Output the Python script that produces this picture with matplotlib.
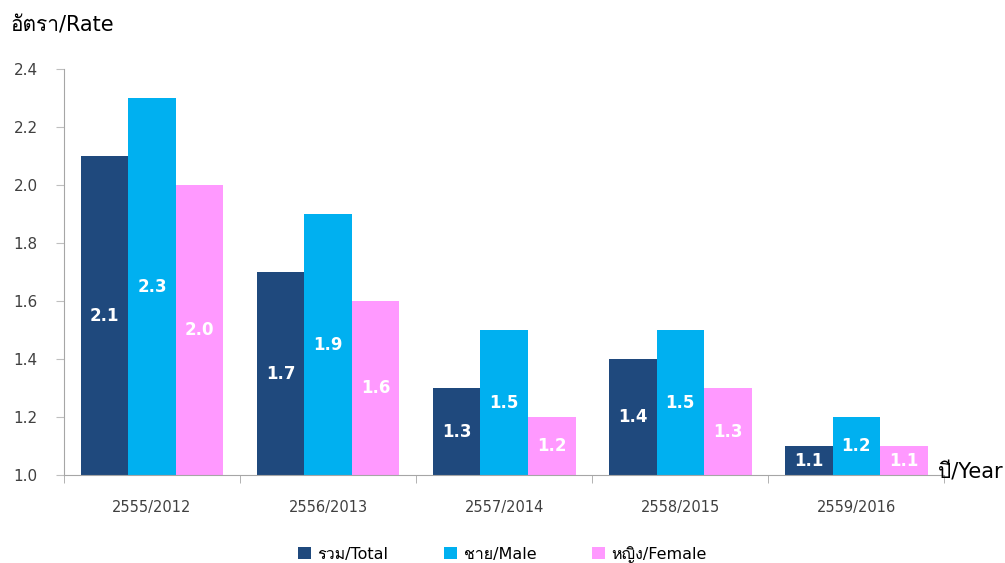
import numpy as np
from matplotlib import pyplot as plt
from matplotlib import font_manager
from matplotlib.ft2font import FT2Font

years = ["2555/2012", "2556/2013", "2557/2014", "2558/2015", "2559/2016"]
total = [2.1, 1.7, 1.3, 1.4, 1.1]
male = [2.3, 1.9, 1.5, 1.5, 1.2]
female = [2.0, 1.6, 1.2, 1.3, 1.1]
series_names = ["รวม/Total", "ชาย/Male", "หญิง/Female"]
colors = ["#1F497D", "#00B0F0", "#FF99FF"]

# look for an installed font that has Thai glyphs
thai_font = None
for fe in font_manager.fontManager.ttflist:
    try:
        if 0x0E2D in FT2Font(fe.fname).get_charmap():
            thai_font = fe.name
            break
    except Exception:
        pass
fams = ["DejaVu Sans"]
if thai_font:
    fams.append(thai_font)
plt.rcParams['font.family'] = fams

fig = plt.figure(figsize=(10.05, 5.63), dpi=100)
ax = fig.add_axes([0.0637, 0.156, 0.876, 0.721])

x = np.arange(len(years))
w = 0.27
for i, vals in enumerate([total, male, female]):
    bars = ax.bar(x + (i - 1) * w, np.array(vals) - 1.0, w, bottom=1.0,
                  color=colors[i], label=series_names[i])
    for b, v in zip(bars, vals):
        ax.text(b.get_x() + b.get_width() / 2, 1.0 + (v - 1.0) / 2, "%.1f" % v,
                ha='center', va='center', color='white', fontsize=12,
                fontweight='bold')

ax.set_xlim(-0.5, len(years) - 0.5)
ax.set_ylim(1.0, 2.4)
ax.set_yticks(np.arange(1.0, 2.41, 0.2))
ax.set_yticklabels(["%.1f" % t for t in np.arange(1.0, 2.41, 0.2)])
ax.set_xticks(x)
ax.set_xticklabels(years)
ax.set_xticks(np.arange(-0.5, len(years), 1.0), minor=True)

for s in ['top', 'right']:
    ax.spines[s].set_visible(False)
for s in ['left', 'bottom']:
    ax.spines[s].set_color('#A6A6A6')
ax.tick_params(axis='y', length=6, color='#BFBFBF', labelsize=11,
               labelcolor='#404040', pad=13)
ax.tick_params(axis='x', which='major', length=0, labelsize=10.5,
               labelcolor='#404040', pad=18)
ax.tick_params(axis='x', which='minor', length=6, color='#A6A6A6')

fig.text(0.01, 0.955, "อัตรา/Rate", fontsize=15,
         ha='left', va='center')
fig.text(0.933, 0.16, "ปี/Year", fontsize=15,
         ha='left', va='center')

fig.legend(loc='lower center', bbox_to_anchor=(0.5, -0.025), ncol=3,
           frameon=False, fontsize=11.5, handlelength=0.8, handleheight=0.8,
           columnspacing=3.5, handletextpad=0.4)

fig.savefig("out.png", dpi=100)
